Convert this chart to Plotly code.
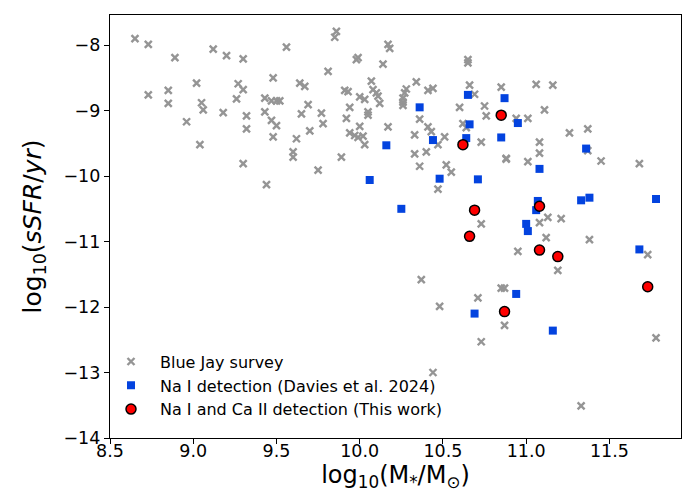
import plotly.graph_objects as go

# Blue Jay survey (grey crosses)
bj_mass = [8.65, 8.73, 8.89, 9.12, 9.20, 9.30, 9.56, 8.73, 8.85, 8.85,
           9.02, 9.05, 9.06, 8.96, 9.04, 9.18, 9.27, 9.30, 9.26, 9.32,
           9.32, 9.30, 9.48, 9.43, 9.47, 9.50, 9.52, 9.43, 9.47, 9.50,
           9.48, 9.44, 9.62, 9.60, 9.60, 9.65, 9.64, 9.67, 9.69, 9.70,
           9.86, 9.85, 10.17, 10.18, 9.98, 9.99, 10.14, 9.81, 10.65, 10.65,
           10.07, 10.34, 9.91, 9.93, 10.08, 10.10, 10.11, 10.00, 10.03, 10.12,
           10.28, 10.27, 10.26, 10.26, 10.26, 10.41, 10.44, 10.66, 10.69, 10.85,
           9.94, 9.77, 9.78, 9.92, 10.05, 10.05, 10.00, 9.94, 9.97, 9.99,
           10.02, 10.03, 10.17, 10.36, 10.33, 10.41, 10.43, 10.51, 10.47, 10.60,
           10.75, 10.76, 10.62, 10.64, 10.73, 10.88, 10.33, 10.40, 9.89, 10.36,
           10.52, 10.55, 9.75, 10.47, 10.73, 11.06, 11.16, 11.11, 10.94, 11.01,
           11.26, 11.37, 11.08, 11.08, 11.37, 10.88, 11.01, 11.45, 11.68, 11.08,
           11.13, 11.21, 11.12, 11.38, 10.95, 11.19, 11.73, 10.85, 10.87, 10.87,
           11.78, 11.33, 10.37, 10.48, 10.71, 10.73, 10.44]
bj_ssfr = [-7.90, -7.99, -8.19, -8.06, -8.16, -8.21, -8.03, -8.76, -8.69, -8.89,
           -8.58, -8.88, -8.99, -9.17, -9.52, -9.03, -8.59, -8.68, -8.82, -9.08,
           -9.28, -9.81, -8.50, -8.81, -8.85, -8.85, -8.85, -9.02, -9.15, -9.23,
           -9.40, -10.13, -9.43, -9.63, -9.71, -9.05, -8.58, -8.63, -8.91, -9.31,
           -7.79, -7.88, -7.99, -8.05, -8.22, -8.19, -8.29, -8.40, -8.22, -8.27,
           -8.55, -8.56, -8.69, -8.71, -8.68, -8.73, -8.78, -8.79, -8.83, -8.89,
           -8.67, -8.73, -8.81, -8.87, -8.92, -8.69, -8.66, -8.61, -8.75, -8.64,
           -8.95, -9.04, -9.20, -9.12, -9.02, -9.07, -9.24, -9.34, -9.38, -9.41,
           -9.39, -9.52, -9.25, -9.13, -9.37, -9.25, -9.32, -9.40, -9.52, -8.95,
           -8.93, -9.08, -9.20, -9.26, -9.48, -9.73, -9.66, -9.63, -9.71, -9.85,
           -9.83, -9.94, -9.91, -10.20, -10.73, -8.60, -8.61, -8.99, -9.12, -9.12,
           -9.34, -9.28, -9.48, -9.65, -9.61, -9.74, -9.78, -9.77, -9.81, -10.71,
           -10.63, -10.65, -10.94, -10.97, -11.15, -11.44, -11.20, -11.71, -11.71, -12.28,
           -12.47, -13.51, -11.58, -11.99, -11.86, -12.53, -13.00]

# Na I detections (Davies et al. 2024)
nai_mass = [10.36, 10.65, 10.87, 10.66, 10.16, 10.44, 10.64, 10.85, 10.06, 10.48,
            10.71, 10.25, 10.95, 11.36, 11.08, 11.33, 11.38, 11.78, 11.07, 11.06,
            11.00, 11.01, 11.68, 10.94, 11.16, 10.69]
nai_ssfr = [-8.95, -8.76, -8.81, -9.21, -9.53, -9.45, -9.42, -9.41, -10.06, -10.04,
            -10.05, -10.50, -9.19, -9.58, -9.89, -10.37, -10.33, -10.35, -10.38, -10.52,
            -10.73, -10.84, -11.12, -11.80, -12.36, -12.10]

# Na I and Ca II detections (this work)
caii_mass = [10.62, 10.85, 10.69, 10.66, 11.08, 11.08, 11.19, 11.73, 10.87]
caii_ssfr = [-9.52, -9.07, -10.52, -10.92, -10.46, -11.13, -11.23, -11.69, -12.07]

fig = go.Figure()
fig.add_trace(go.Scatter(
    x=bj_mass, y=bj_ssfr, mode='markers', name='Blue Jay survey',
    marker=dict(symbol='x-thin', size=7, color='#959595',
                line=dict(width=2.4, color='#959595'))))
fig.add_trace(go.Scatter(
    x=nai_mass, y=nai_ssfr, mode='markers', name='Na I detection (Davies et al. 2024)',
    marker=dict(symbol='square', size=8, color='#0343df', line=dict(width=0))))
fig.add_trace(go.Scatter(
    x=caii_mass, y=caii_ssfr, mode='markers', name='Na I and Ca II detection (This work)',
    marker=dict(symbol='circle', size=10, color='red', line=dict(width=1.5, color='black'))))

axis_common = dict(showgrid=False, zeroline=False, showline=True, linecolor='black',
                   linewidth=1.2, mirror=True, ticks='outside', ticklen=5,
                   tickwidth=1.2, tickcolor='black',
                   tickfont=dict(family='DejaVu Sans', size=17.5, color='black'))

fig.update_xaxes(range=[8.5, 11.93], dtick=0.5, tick0=8.5, tickformat='.1f',
                 ticklabelstandoff=-8,
                 title=dict(text='log<sub>10</sub>(M<sub>*</sub>/M<sub>⊙</sub>)',
                            font=dict(family='DejaVu Sans', size=24, color='black'),
                            standoff=6),
                 **axis_common)
fig.update_yaxes(range=[-14, -7.54], dtick=1, tick0=-14,
                 title=dict(text='log<sub>10</sub>(<i>sSFR</i>/<i>yr</i>)',
                            font=dict(family='DejaVu Sans', size=25, color='black'),
                            standoff=14),
                 **axis_common)

fig.update_layout(
    width=691, height=497,
    margin=dict(l=102, r=18, t=7, b=67),
    paper_bgcolor='white', plot_bgcolor='white',
    showlegend=True,
    legend=dict(x=-0.014, y=0.027, xanchor='left', yanchor='bottom',
                bgcolor='rgba(0,0,0,0)', itemwidth=48,
                font=dict(family='DejaVu Sans', size=16, color='black'),
                tracegroupgap=0),
)

fig.write_html("out.html")
